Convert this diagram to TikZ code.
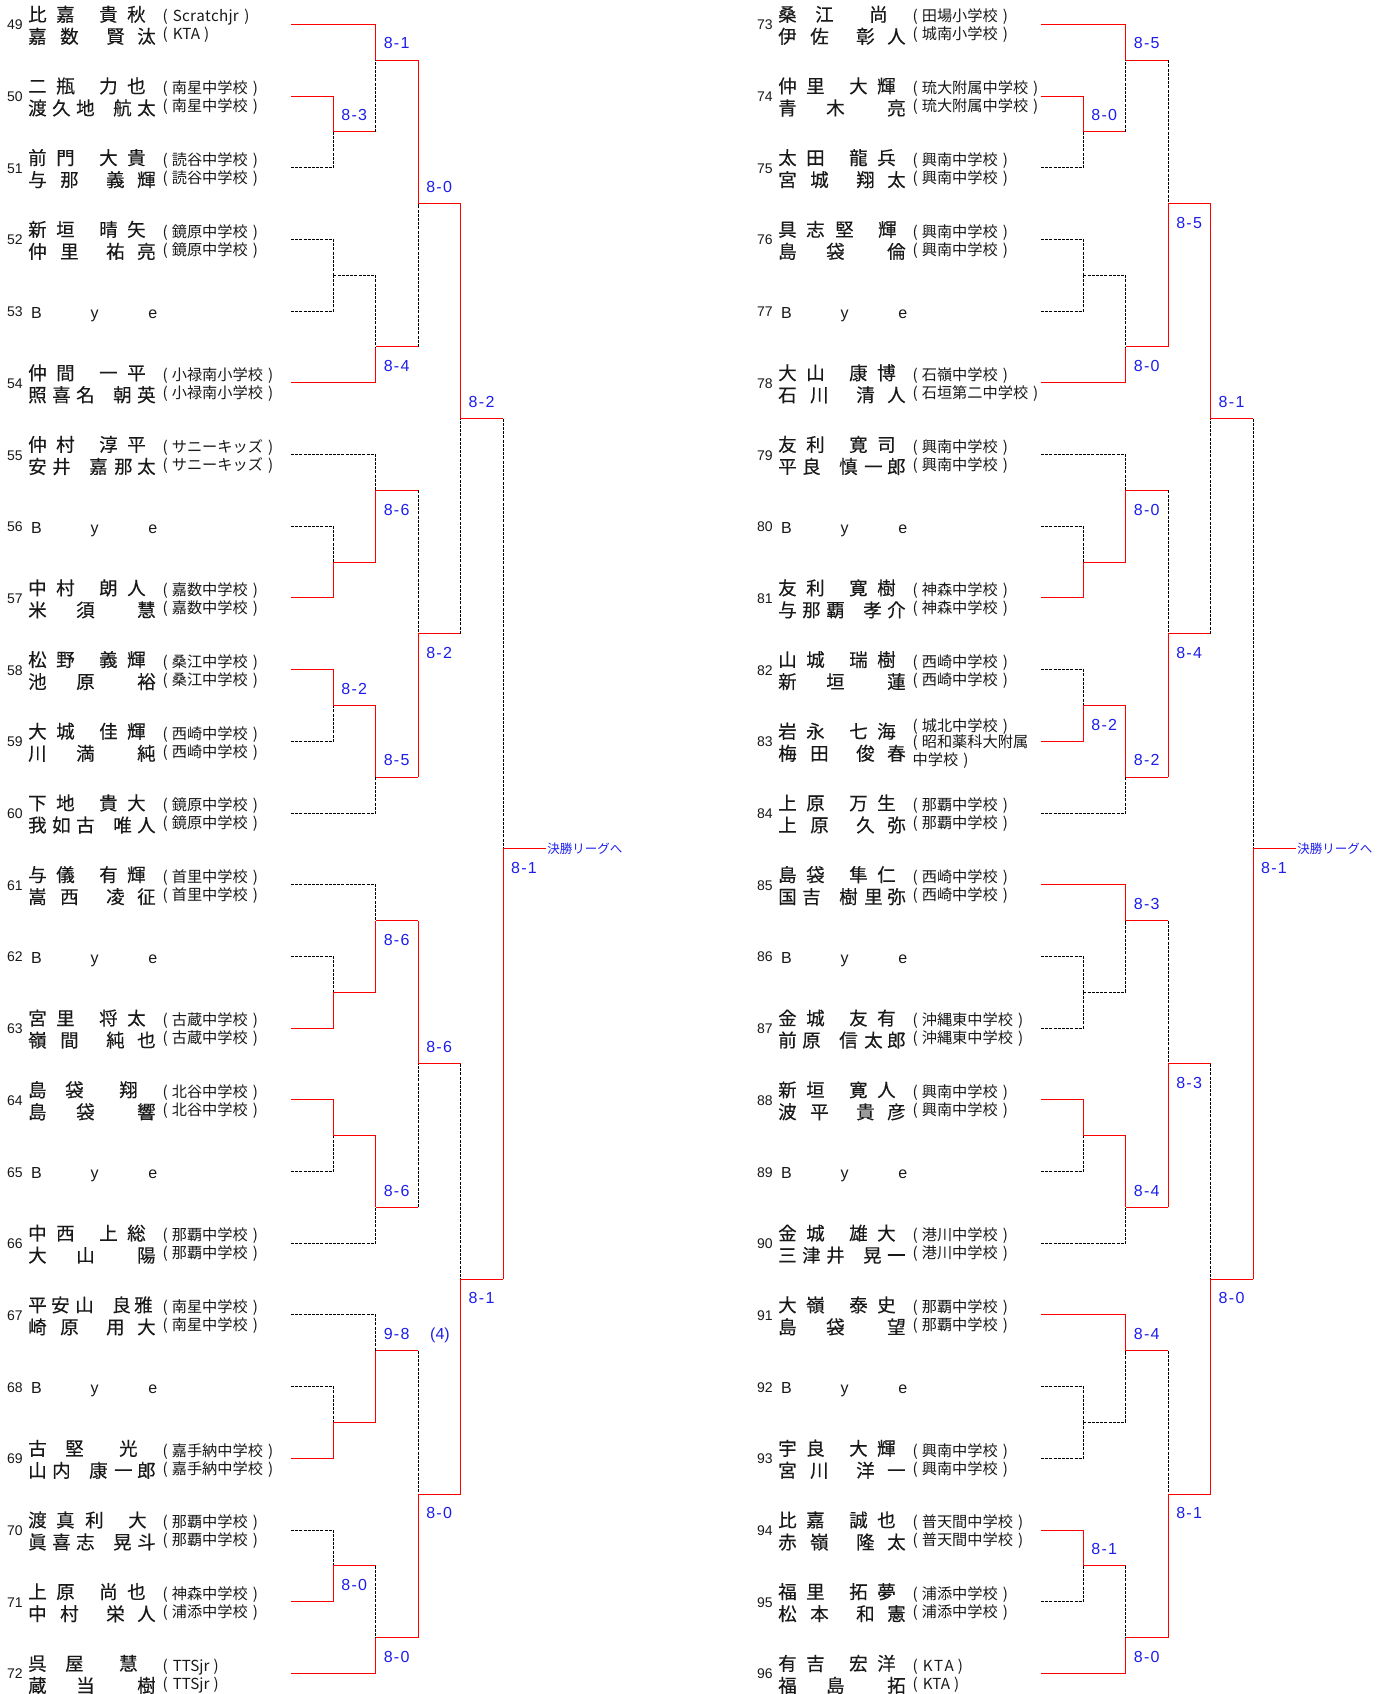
\documentclass[tikz,border=0pt]{standalone}
\usepackage{fontspec}
\newfontfamily\jp{Noto Sans CJK JP}
\newfontfamily\jpb[FakeBold=0.25]{Noto Sans CJK JP}
\newfontfamily\lat{Liberation Sans}
\definecolor{scblue}{RGB}{30,30,235}
\definecolor{txt}{RGB}{25,25,25}
\newcommand\namefont{\jpb\fontsize{18.5}{20}\selectfont}
\newcommand\schfont{\jp\fontsize{15.2}{16}\selectfont}
\newcommand\numfont{\lat\fontsize{14}{16}\selectfont}
\newcommand\byefont{\lat\fontsize{16}{18}\selectfont}
\newcommand\lbfont{\lat\fontsize{16}{18}\selectfont}
\newcommand\finfont{\jp\fontsize{12.5}{14}\selectfont}
\newcommand\RY[1]{(24.3+71.7*(#1))}
\newcommand\CX[1]{(291+42.45*(#1))}
\def\offx{0}
% name layouts
\newcommand\nmA[4]{\rlap{#1}\hspace*{28pt}\rlap{#2}\hspace*{43pt}\rlap{#3}\hspace*{28pt}#4}
\newcommand\nmB[4]{\rlap{#1}\hspace*{28pt}\rlap{#2}\hspace*{29pt}\rlap{#3}\hspace*{43pt}#4}
\newcommand\nmC[5]{\rlap{#1}\hspace*{23pt}\rlap{#2}\hspace*{24pt}\rlap{#3}\hspace*{37pt}\rlap{#4}\hspace*{22pt}#5}
\newcommand\nmD[3]{\rlap{#1}\hspace*{37pt}\rlap{#2}\hspace*{54pt}#3}
\newcommand\nmE[4]{\rlap{#1}\hspace*{32pt}\rlap{#2}\hspace*{46pt}\rlap{#3}\hspace*{31pt}#4}
\newcommand\nmF[5]{\rlap{#1}\hspace*{24pt}\rlap{#2}\hspace*{24pt}\rlap{#3}\hspace*{37pt}\rlap{#4}\hspace*{24pt}#5}
\newcommand\nmG[5]{\rlap{#1}\hspace*{24pt}\rlap{#2}\hspace*{37pt}\rlap{#3}\hspace*{25pt}\rlap{#4}\hspace*{23pt}#5}
\newcommand\nmH[3]{\rlap{#1}\hspace*{48pt}\rlap{#2}\hspace*{61pt}#3}
\newcommand\schl[1]{(\hspace*{4pt}#1\hspace*{5pt})}
\newcommand\latschl[1]{(\hspace*{5pt}#1\hspace*{4pt})}
\tikzset{
  rw/.style={draw=red, line width=1pt},
  dl/.style={draw=black, line width=0.9pt, dash pattern=on 3pt off 1.2pt},
  numst/.style={anchor=base west, inner sep=0pt, font=\numfont, text=txt},
  nmst/.style={anchor=base west, inner sep=0pt, font=\namefont, text=txt},
  scst/.style={anchor=base west, inner sep=0pt, font=\schfont, text=txt},
  byest/.style={anchor=base west, inner sep=0pt, font=\byefont, text=txt},
  lbst/.style={anchor=base west, inner sep=0pt, font=\lbfont, text=scblue},
  finst/.style={anchor=base west, inner sep=0pt, font=\finfont, text=scblue},
}
\newcounter{lbc}
\newcommand\labA[4]{\stepcounter{lbc}\node[lbst] (L\arabic{lbc}) at ({\offx+\CX{#1}+7.7},{\RY{#2}-11.2}) {#3\kern1.3pt-\kern1.3pt#4};}
\newcommand\labB[4]{\stepcounter{lbc}\node[lbst] (L\arabic{lbc}) at ({\offx+\CX{#1}+7.7},{\RY{#2}+24.8}) {#3\kern1.3pt-\kern1.3pt#4};}
\newcommand\entr[6]{%
  \node[numst] (n#2) at ({\offx+7},{\RY{#1}+5.5}) {#2};
  \node[nmst] (a#2) at ({\offx+28},{\RY{#1}-3}) {#3};
  \node[scst] (s#2) at ({\offx+162.5},{\RY{#1}-2.3}) {#4};
  \node[nmst] (b#2) at ({\offx+28},{\RY{#1}+19}) {#5};
  \node[scst] (t#2) at ({\offx+162.5},{\RY{#1}+15.7}) {#6};}
\newcommand\byeentry[2]{%
  \node[numst] (n#2) at ({\offx+7},{\RY{#1}+5.5}) {#2};
  \node[byest] (a#2) at ({\offx+30.8},{\RY{#1}+7}) {B};
  \node[byest] (b#2) at ({\offx+90.5},{\RY{#1}+7}) {y};
  \node[byest] (c#2) at ({\offx+148.2},{\RY{#1}+7}) {e};}
\newcommand\grpE[7]{%
  \draw[#2] ({\offx+\CX{0}},{\RY{#1}}) -| ({\offx+\CX{2}},{\RY{#1+0.5}});
  \draw[#3] ({\offx+\CX{0}},{\RY{#1+1}}) -| ({\offx+\CX{1}},{\RY{#1+1.5}});
  \draw[#4] ({\offx+\CX{0}},{\RY{#1+2}}) -| ({\offx+\CX{1}},{\RY{#1+1.5}});
  \draw[#5] ({\offx+\CX{0}},{\RY{#1+3}}) -| ({\offx+\CX{1}},{\RY{#1+3.5}});
  \draw[#6] ({\offx+\CX{0}},{\RY{#1+4}}) -| ({\offx+\CX{1}},{\RY{#1+3.5}});
  \draw[#7] ({\offx+\CX{0}},{\RY{#1+5}}) -| ({\offx+\CX{2}},{\RY{#1+4.5}});}
\newcommand\junc[5]{%
  \draw[#1] ({\offx+\CX{#4}},{\RY{#3}}) -- ({\offx+\CX{#4+1}},{\RY{#3}});
  \draw[#2] ({\offx+\CX{#4+1}},{\RY{#3}}) -- ({\offx+\CX{#4+1}},{\RY{#5}});}
\newcommand\grpJ[7]{%
  \junc{#2}{#3}{#1+1.5}{1}{#1+0.5}
  \junc{#4}{#5}{#1+3.5}{1}{#1+4.5}
  \junc{rw}{#6}{#1+0.5}{2}{#1+2.5}
  \junc{rw}{#7}{#1+4.5}{2}{#1+2.5}}
\begin{document}
\begin{tikzpicture}[x=1pt,y=-1pt]
\fill[white] (0,0) rectangle (1390,1694);
\useasboundingbox (0,0) rectangle (1390,1694);
%%%%%%%%%%%%%%%% LEFT SIDE
\def\offx{0}
\grpE{0}{rw}{rw}{dl}{dl}{dl}{rw}
\grpJ{0}{rw}{dl}{dl}{dl}{rw}{dl}
\grpE{6}{dl}{dl}{rw}{rw}{dl}{dl}
\grpJ{6}{rw}{rw}{rw}{rw}{dl}{rw}
\grpE{12}{dl}{dl}{rw}{rw}{dl}{dl}
\grpJ{12}{rw}{rw}{rw}{rw}{rw}{dl}
\grpE{18}{dl}{dl}{rw}{dl}{rw}{rw}
\grpJ{18}{rw}{rw}{rw}{dl}{dl}{rw}
\junc{rw}{rw}{2.5}{3}{5.5}
\junc{rw}{dl}{8.5}{3}{5.5}
\junc{rw}{dl}{14.5}{3}{17.5}
\junc{rw}{rw}{20.5}{3}{17.5}
\junc{rw}{dl}{5.5}{4}{11.5}
\junc{rw}{rw}{17.5}{4}{11.5}
\draw[rw] ({\offx+\CX{5}},{\RY{11.5}}) -- ({\offx+\CX{6}},{\RY{11.5}});
\node[finst] (finL) at ({\offx+\CX{6}+1.5},{\RY{11.5}+5}) {決勝リーグへ};
\labA{1}{1.5}{8}{3} \labA{2}{0.5}{8}{1} \labB{2}{4.5}{8}{4} \labA{3}{2.5}{8}{0}
\labB{2}{6.5}{8}{6} \labA{1}{9.5}{8}{2} \labA{2}{10.5}{8}{5} \labB{3}{8.5}{8}{2}
\labA{4}{5.5}{8}{2}
\labB{2}{12.5}{8}{6} \labA{2}{16.5}{8}{6} \labA{3}{14.5}{8}{6}
\labA{2}{18.5}{9}{8} \labB{1}{21.5}{8}{0} \labB{2}{22.5}{8}{0} \labB{3}{20.5}{8}{0}
\labB{4}{17.5}{8}{1}
\labB{5}{11.5}{8}{1}
\node[lbst] (four) at (430,{\RY{18.5}-11.2}) {(4)};
\entr{0}{49}{\nmA{比}{嘉}{貴}{秋}}{(\hspace*{5pt}\makebox[66pt][s]{S\hfil c\hfil r\hfil a\hfil t\hfil c\hfil h\hfil j\hfil r}\hspace*{5.5pt})}{\nmE{嘉}{数}{賢}{汰}}{\latschl{KTA}}
\entr{1}{50}{\nmA{二}{瓶}{力}{也}}{\schl{南星中学校}}{\nmF{渡}{久}{地}{航}{太}}{\schl{南星中学校}}
\entr{2}{51}{\nmA{前}{門}{大}{貴}}{\schl{読谷中学校}}{\nmE{与}{那}{義}{輝}}{\schl{読谷中学校}}
\entr{3}{52}{\nmA{新}{垣}{晴}{矢}}{\schl{鏡原中学校}}{\nmE{仲}{里}{祐}{亮}}{\schl{鏡原中学校}}
\byeentry{4}{53}
\entr{5}{54}{\nmA{仲}{間}{一}{平}}{\schl{小禄南小学校}}{\nmF{照}{喜}{名}{朝}{英}}{\schl{小禄南小学校}}
\entr{6}{55}{\nmA{仲}{村}{淳}{平}}{\schl{サニーキッズ}}{\nmG{安}{井}{嘉}{那}{太}}{\schl{サニーキッズ}}
\byeentry{7}{56}
\entr{8}{57}{\nmA{中}{村}{朗}{人}}{\schl{嘉数中学校}}{\nmH{米}{須}{慧}}{\schl{嘉数中学校}}
\entr{9}{58}{\nmA{松}{野}{義}{輝}}{\schl{桑江中学校}}{\nmH{池}{原}{裕}}{\schl{桑江中学校}}
\entr{10}{59}{\nmA{大}{城}{佳}{輝}}{\schl{西崎中学校}}{\nmH{川}{満}{純}}{\schl{西崎中学校}}
\entr{11}{60}{\nmA{下}{地}{貴}{大}}{\schl{鏡原中学校}}{\nmF{我}{如}{古}{唯}{人}}{\schl{鏡原中学校}}
\entr{12}{61}{\nmA{与}{儀}{有}{輝}}{\schl{首里中学校}}{\nmE{嵩}{西}{凌}{征}}{\schl{首里中学校}}
\byeentry{13}{62}
\entr{14}{63}{\nmA{宮}{里}{将}{太}}{\schl{古蔵中学校}}{\nmE{嶺}{間}{純}{也}}{\schl{古蔵中学校}}
\entr{15}{64}{\nmD{島}{袋}{翔}}{\schl{北谷中学校}}{\nmH{島}{袋}{響}}{\schl{北谷中学校}}
\byeentry{16}{65}
\entr{17}{66}{\nmA{中}{西}{上}{総}}{\schl{那覇中学校}}{\nmH{大}{山}{陽}}{\schl{那覇中学校}}
\entr{18}{67}{\nmC{平}{安}{山}{良}{雅}}{\schl{南星中学校}}{\nmE{崎}{原}{用}{大}}{\schl{南星中学校}}
\byeentry{19}{68}
\entr{20}{69}{\nmD{古}{堅}{光}}{\schl{嘉手納中学校}}{\nmG{山}{内}{康}{一}{郎}}{\schl{嘉手納中学校}}
\entr{21}{70}{\nmB{渡}{真}{利}{大}}{\schl{那覇中学校}}{\nmF{眞}{喜}{志}{晃}{斗}}{\schl{那覇中学校}}
\entr{22}{71}{\nmA{上}{原}{尚}{也}}{\schl{神森中学校}}{\nmE{中}{村}{栄}{人}}{\schl{浦添中学校}}
\entr{23}{72}{\nmD{呉}{屋}{慧}}{\latschl{TTSjr}}{\nmH{蔵}{当}{樹}}{\latschl{TTSjr}}
%%%%%%%%%%%%%%%% RIGHT SIDE
\def\offx{750}
\grpE{0}{rw}{rw}{dl}{dl}{dl}{rw}
\grpJ{0}{rw}{dl}{dl}{dl}{dl}{rw}
\grpE{6}{dl}{dl}{rw}{dl}{rw}{dl}
\grpJ{6}{rw}{rw}{rw}{rw}{dl}{rw}
\grpE{12}{rw}{dl}{dl}{rw}{dl}{dl}
\grpJ{12}{dl}{dl}{rw}{rw}{dl}{rw}
\grpE{18}{rw}{dl}{dl}{rw}{dl}{rw}
\grpJ{18}{dl}{dl}{rw}{dl}{dl}{rw}
\junc{rw}{rw}{2.5}{3}{5.5}
\junc{rw}{dl}{8.5}{3}{5.5}
\junc{rw}{dl}{14.5}{3}{17.5}
\junc{rw}{rw}{20.5}{3}{17.5}
\junc{rw}{dl}{5.5}{4}{11.5}
\junc{rw}{rw}{17.5}{4}{11.5}
\draw[rw] ({\offx+\CX{5}},{\RY{11.5}}) -- ({\offx+\CX{6}},{\RY{11.5}});
\node[finst] (finR) at ({\offx+\CX{6}+1.5},{\RY{11.5}+5}) {決勝リーグへ};
\labA{2}{0.5}{8}{5} \labA{1}{1.5}{8}{0} \labB{2}{4.5}{8}{0} \labB{3}{2.5}{8}{5}
\labA{4}{5.5}{8}{1}
\labB{2}{6.5}{8}{0} \labB{1}{9.5}{8}{2} \labA{2}{10.5}{8}{2} \labB{3}{8.5}{8}{4}
\labA{2}{12.5}{8}{3} \labA{2}{16.5}{8}{4} \labB{3}{14.5}{8}{3}
\labB{4}{17.5}{8}{0}
\labA{2}{18.5}{8}{4} \labA{1}{21.5}{8}{1} \labB{2}{22.5}{8}{0} \labB{3}{20.5}{8}{1}
\labB{5}{11.5}{8}{1}
\entr{0}{73}{\nmD{桑}{江}{尚}}{\schl{田場小学校}}{\nmE{伊}{佐}{彰}{人}}{\schl{城南小学校}}
\entr{1}{74}{\nmA{仲}{里}{大}{輝}}{\schl{琉大附属中学校}}{\nmH{青}{木}{亮}}{\schl{琉大附属中学校}}
\entr{2}{75}{\nmA{太}{田}{龍}{兵}}{\schl{興南中学校}}{\nmE{宮}{城}{翔}{太}}{\schl{興南中学校}}
\entr{3}{76}{\nmB{具}{志}{堅}{輝}}{\schl{興南中学校}}{\nmH{島}{袋}{倫}}{\schl{興南中学校}}
\byeentry{4}{77}
\entr{5}{78}{\nmA{大}{山}{康}{博}}{\schl{石嶺中学校}}{\nmE{石}{川}{清}{人}}{\schl{石垣第二中学校}}
\entr{6}{79}{\nmA{友}{利}{寛}{司}}{\schl{興南中学校}}{\nmG{平}{良}{慎}{一}{郎}}{\schl{興南中学校}}
\byeentry{7}{80}
\entr{8}{81}{\nmA{友}{利}{寛}{樹}}{\schl{神森中学校}}{\nmF{与}{那}{覇}{孝}{介}}{\schl{神森中学校}}
\entr{9}{82}{\nmA{山}{城}{瑞}{樹}}{\schl{西崎中学校}}{\nmH{新}{垣}{蓮}}{\schl{西崎中学校}}
\entr{10}{83}{\nmA{岩}{永}{七}{海}}{}{\nmE{梅}{田}{俊}{春}}{}
\node[scst] (s83a) at ({\offx+162.5},{\RY{10}-10.3}) {\schl{城北中学校}};
\node[scst] (s83b) at ({\offx+162.5},{\RY{10}+6.2}) {(\hspace*{4pt}昭和薬科大附属};
\node[scst] (s83c) at ({\offx+162.5},{\RY{10}+23.7}) {中学校\hspace*{5pt})};
\entr{11}{84}{\nmA{上}{原}{万}{生}}{\schl{那覇中学校}}{\nmE{上}{原}{久}{弥}}{\schl{那覇中学校}}
\entr{12}{85}{\nmA{島}{袋}{隼}{仁}}{\schl{西崎中学校}}{\nmG{国}{吉}{樹}{里}{弥}}{\schl{西崎中学校}}
\byeentry{13}{86}
\entr{14}{87}{\nmA{金}{城}{友}{有}}{\schl{沖縄東中学校}}{\nmG{前}{原}{信}{太}{郎}}{\schl{沖縄東中学校}}
\entr{15}{88}{\nmA{新}{垣}{寛}{人}}{\schl{興南中学校}}{\nmE{波}{平}{貴}{彦}}{\schl{興南中学校}}
\byeentry{16}{89}
\entr{17}{90}{\nmA{金}{城}{雄}{大}}{\schl{港川中学校}}{\nmF{三}{津}{井}{晃}{一}}{\schl{港川中学校}}
\entr{18}{91}{\nmA{大}{嶺}{泰}{史}}{\schl{那覇中学校}}{\nmH{島}{袋}{望}}{\schl{那覇中学校}}
\byeentry{19}{92}
\entr{20}{93}{\nmA{宇}{良}{大}{輝}}{\schl{興南中学校}}{\nmE{宮}{川}{洋}{一}}{\schl{興南中学校}}
\entr{21}{94}{\nmA{比}{嘉}{誠}{也}}{\schl{普天間中学校}}{\nmE{赤}{嶺}{隆}{太}}{\schl{普天間中学校}}
\entr{22}{95}{\nmA{福}{里}{拓}{夢}}{\schl{浦添中学校}}{\nmE{松}{本}{和}{憲}}{\schl{浦添中学校}}
\entr{23}{96}{\nmA{有}{吉}{宏}{洋}}{(\hspace*{5pt}\makebox[31pt][s]{K\hfil T\hfil A}\hspace*{4pt})}{\nmH{福}{島}{拓}}{\latschl{KTA}}
\end{tikzpicture}
\end{document}
